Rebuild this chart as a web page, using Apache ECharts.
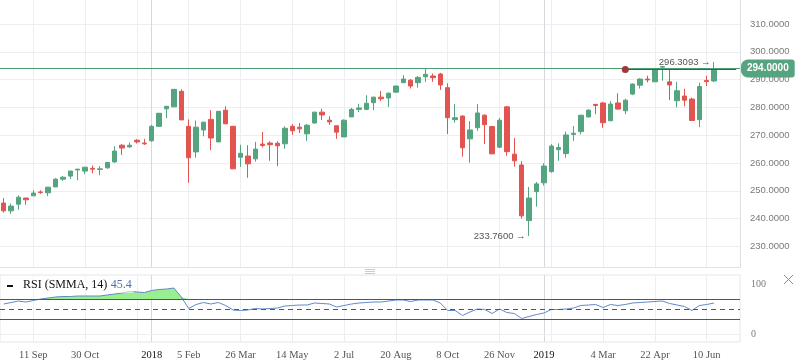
<!DOCTYPE html>
<html><head><meta charset="utf-8">
<script src="https://cdn.jsdelivr.net/npm/echarts@6/dist/echarts.min.js"></script>
<style>html,body{margin:0;padding:0;background:#fff}#c{width:798px;height:363px}</style>
</head><body><div id="c"></div>
<script>
// weekly categories (last 3 are empty future weeks)
const weeks = ['2017-08-14','2017-08-21','2017-08-28','2017-09-04','2017-09-11','2017-09-18','2017-09-25','2017-10-02','2017-10-09','2017-10-16','2017-10-23','2017-10-30','2017-11-06','2017-11-13','2017-11-20','2017-11-27','2017-12-04','2017-12-11','2017-12-18','2017-12-25',
'2018-01-01','2018-01-08','2018-01-15','2018-01-22','2018-01-29','2018-02-05','2018-02-12','2018-02-19','2018-02-26','2018-03-05','2018-03-12','2018-03-19','2018-03-26','2018-04-02','2018-04-09','2018-04-16','2018-04-23','2018-04-30','2018-05-07','2018-05-14','2018-05-21','2018-05-28','2018-06-04','2018-06-11','2018-06-18','2018-06-25','2018-07-02','2018-07-09','2018-07-16','2018-07-23','2018-07-30','2018-08-06','2018-08-13','2018-08-20','2018-08-27','2018-09-03','2018-09-10','2018-09-17','2018-09-24','2018-10-01','2018-10-08','2018-10-15','2018-10-22','2018-10-29','2018-11-05','2018-11-12','2018-11-19','2018-11-26','2018-12-03','2018-12-10','2018-12-17','2018-12-24','2018-12-31',
'2019-01-07','2019-01-14','2019-01-21','2019-01-28','2019-02-04','2019-02-11','2019-02-18','2019-02-25','2019-03-04','2019-03-11','2019-03-18','2019-03-25','2019-04-01','2019-04-08','2019-04-15','2019-04-22','2019-04-29','2019-05-06','2019-05-13','2019-05-20','2019-05-27','2019-06-03','2019-06-10','2019-06-17',
'2019-06-24','2019-07-01','2019-07-08'];

const openP = [245.6,242.8,245.2,247.4,248.2,249.6,249.3,251.4,254.2,255.3, 257.5,257.1,258.1,257.7,258.3,260.4,266.4,265.8,268.2,267.2, 268.0,273.2,279.5,280.2,285.8,273.2,264.0,271.9,275.7,267.6, 279.0,273.2,262.1,262.5,261.5,266.8,267.2,267.1,266.9,273.2, 272.9,270.5,274.4,278.3,275.4,273.4,269.4,276.6,279.3,279.3, 281.7,283.7,283.4,285.5,288.9,289.8,288.9,291.0,291.3,292.0, 287.1,275.6,276.9,268.7,272.7,277.2,273.1,265.7,280.2,263.2, 259.3,239.3,249.7,252.9,256.9,264.8,263.4,270.3,271.3,276.6, 281.1,281.6,275.2,281.6,278.8,284.8,288.0,290.2,289.2,294.5, 289.2,282.4,284.1,283.0,275.6,289.7,289.5];
const closeP = [242.8,244.5,247.7,246.8,249.2,249.4,251.3,254.2,254.9,257.1, 257.8,258.5,257.8,257.9,260.2,264.3,265.4,266.4,267.6,266.9, 273.2,277.9,280.4,286.5,275.5,261.9,272.9,274.7,269.0,278.6, 274.1,257.9,263.5,259.7,265.0,266.3,266.6,266.2,272.5,271.6, 272.3,273.6,278.3,277.3,274.8,271.1,275.4,279.3,279.8,281.5, 283.7,283.1,285.1,287.7,290.2,287.7,290.8,291.9,290.7,288.1, 276.3,276.3,265.5,271.9,278.0,273.8,263.3,275.4,264.1,260.8, 241.0,247.4,252.5,258.9,266.1,265.6,270.1,270.7,277.2,279.0, 280.7,274.5,281.2,279.4,282.6,288.4,290.2,289.9,293.8,294.7, 288.1,286.0,282.6,275.3,287.5,289.3,294.0];
const lowP = [242.2,241.7,243.2,245.0,248.2,248.9,248.1,251.4,253.6,254.3, 253.8,256.0,256.3,255.6,257.9,260.1,262.9,265.6,267.0,266.5, 267.7,273.0,276.2,280.2,275.5,252.9,261.9,269.6,264.6,267.6, 274.1,257.9,258.6,254.7,260.5,265.6,260.8,258.9,265.1,270.1, 270.8,268.0,274.2,275.5,273.7,268.7,269.4,276.6,278.3,279.0, 279.0,282.3,280.2,285.3,288.9,286.8,287.1,289.2,289.2,286.3, 270.4,274.5,262.3,260.1,271.6,266.8,263.2,265.4,262.6,258.7, 240.0,233.76,244.3,251.9,256.5,260.8,261.9,268.0,270.3,276.4, 277.6,272.7,275.2,279.2,277.6,284.4,286.8,289.0,289.2,289.6, 282.6,280.0,280.4,275.1,272.9,287.7,289.2];
const highP = [247.4,245.4,248.4,247.5,250.2,250.2,251.4,254.5,255.3,257.2, 257.9,258.6,259.1,258.9,260.3,266.0,266.8,267.4,268.6,268.7, 273.7,278.0,280.5,286.6,286.5,275.7,275.3,274.8,279.0,278.7, 280.4,273.3,266.6,266.4,267.6,271.2,267.8,267.8,273.2,274.0, 274.4,274.0,278.4,279.5,276.8,273.5,275.7,279.8,281.3,284.4, 283.8,285.9,285.4,287.8,291.6,290.2,291.3,294.0,292.2,292.4, 288.7,281.2,277.1,275.1,281.2,277.5,273.4,276.2,280.5,269.0, 260.7,251.4,253.2,259.9,266.8,267.1,271.3,273.3,277.3,279.4, 281.2,282.0,282.3,285.1,283.1,288.6,290.5,291.4,294.0,294.9, 294.0,289.2,286.7,283.5,288.9,291.4,296.3093];

const rsi = [60,63,66,64,67,70,72,74,75,75, 76,76,76,76,78,80,82,85,84,83, 87,89,90,92,74,51,59,63,60,63, 57,48,47,48,51,50,51,52,56,57, 58,58,62,61,60,54,57,60,62,63, 64,64,66,68,68,65,68,68,68,62, 47,47,37,44,50,49,41,50,43,41, 31,35,39,42,49,49,50,52,57,58, 59,53,59,57,59,62,63,64,65,66, 61,58,55,47,57,59,62];
const rsiLevels = [70, 50, 30];
const rsiLabelTicks = [0, 100];

const tickWeeks = ['2017-09-11','2017-10-30','2017-12-18','2018-01-01','2018-02-05','2018-03-26','2018-05-14','2018-07-02','2018-08-20','2018-10-08','2018-11-26','2019-01-07','2019-01-14','2019-03-04','2019-04-22','2019-06-10'];
const tickLabels = ['11 Sep','30 Oct','','2018','5 Feb','26 Mar','14 May','2 Jul','20 Aug','8 Oct','26 Nov','2019','','4 Mar','22 Apr','10 Jun'];
const yearLabels = ['2018','2019'];

const lastPrice = 294.0;
const levelPrice = 293.62;
const levelStart = '2019-03-25';
const levelEnd = '2019-07-08';
const maxNote = {week:'2019-06-17', price:296.3093};
const minNote = {week:'2018-12-24', price:233.76};
const rsiValueText = '45.4';

const UP = '#53a47f', DOWN = '#e1544f';
const candles = openP.map((o,i)=>[o, closeP[i], lowP[i], highP[i]]);
const gridColors = tickLabels.map(t => yearLabels.includes(t) ? '#d5d8dd' : '#eceef2');
const vSplit = {show:true, alignWithLabel:true, interval:(i,v)=>tickWeeks.includes(v), lineStyle:{color:gridColors, width:1}};

const chart = echarts.init(document.getElementById('c'), null, {renderer:'canvas'});
chart.setOption({
  animation:false,
  backgroundColor:'#fff',
  grid:[
    {left:0, right:58, top:0, height:267, outerBoundsMode:'none', containLabel:false},
    {left:0, right:58, top:275, height:67, outerBoundsMode:'none', containLabel:false, show:true, borderColor:'#e3e6ea', borderWidth:1, backgroundColor:'transparent'}
  ],
  xAxis:[
    {type:'category', gridIndex:0, data:weeks, boundaryGap:true,
     axisLine:{show:true, lineStyle:{color:'#dfe2e6'}}, axisTick:{show:false}, axisLabel:{show:false},
     splitLine:vSplit},
    {type:'category', gridIndex:1, data:weeks, boundaryGap:true,
     axisLine:{show:false}, axisTick:{show:false},
     axisLabel:{show:true, interval:(i,v)=>{const k=tickWeeks.indexOf(v); return k>=0 && tickLabels[k]!=='';},
       formatter:(v)=>{const k=tickWeeks.indexOf(v); const t=k>=0?tickLabels[k]:''; return yearLabels.includes(t)?'{y|'+t+'}':t;},
       color:'#555', fontSize:10.5, fontFamily:'Liberation Serif', margin:8,
       rich:{y:{color:'#111', fontSize:10.5, fontFamily:'Liberation Serif'}}},
     splitLine:vSplit}
  ],
  yAxis:[
    {type:'value', gridIndex:0, position:'right', min:222.6, max:318.64, splitNumber:10,
     axisLine:{show:true, lineStyle:{color:'#dcdfe3'}}, axisTick:{show:false},
     axisLabel:{color:'#7a7a7a', fontSize:9.5, fontFamily:'Liberation Sans', margin:10,
       formatter:(v)=>v.toFixed(4), showMinLabel:false, showMaxLabel:false},
     splitLine:{show:true, showMinLine:false, showMaxLine:false, lineStyle:{color:'#eceef2'}}},
    {type:'value', gridIndex:1, position:'right', min:-16, max:118,
     axisLine:{show:false}, axisTick:{show:false}, splitLine:{show:false},
     axisLabel:{customValues:rsiLabelTicks, color:'#7a7a7a', fontSize:10, fontFamily:'Liberation Serif', margin:11}}
  ],
  series:[
    {type:'candlestick', name:'Price', xAxisIndex:0, yAxisIndex:0, data:candles, barWidth:5,
     itemStyle:{color:UP, color0:DOWN, borderColor:UP, borderColor0:DOWN, borderWidth:1},
     markPoint:{silent:true, symbol:'circle', symbolSize:1, itemStyle:{color:'rgba(0,0,0,0)'},
       label:{show:true, position:'left', distance:3, color:'#555', fontSize:9.5, fontFamily:'Liberation Sans'},
       data:[
         {coord:[maxNote.week, maxNote.price], label:{formatter:maxNote.price.toFixed(4)+' \u2192'}},
         {coord:[minNote.week, minNote.price], label:{formatter:minNote.price.toFixed(4)+' \u2192'}}
       ]}
    },
    {type:'line', name:'last', xAxisIndex:0, yAxisIndex:0, data:[], z:5,
     markLine:{silent:true, symbol:['none','none'],
       lineStyle:{color:'#4a9d74', width:1, type:'solid', opacity:1},
       label:{show:true, position:'end', distance:1, formatter:lastPrice.toFixed(4), color:'#fff', fontWeight:'bold',
            fontSize:10, fontFamily:'Liberation Sans', backgroundColor:'#56a47f', padding:[4,6,4,6], borderRadius:[7,3,3,7]},
       data:[{yAxis:lastPrice}]}},
    {type:'line', name:'level', xAxisIndex:0, yAxisIndex:0, data:[], z:6,
     markLine:{silent:true, symbol:['circle','none'], symbolSize:7,
       itemStyle:{color:'#b0453f'},
       lineStyle:{color:'#9d3a36', width:1, type:'solid'}, label:{show:false},
       data:[[{coord:[levelStart, levelPrice]}, {coord:[levelEnd, levelPrice]}]]}},
    {type:'line', name:'base', xAxisIndex:1, yAxisIndex:1, data:rsi.map(()=>rsiLevels[0]), stack:'ob',
     symbol:'none', lineStyle:{opacity:0}, silent:true, z:1},
    {type:'line', name:'over', xAxisIndex:1, yAxisIndex:1, data:rsi.map(v=>Math.max(v-rsiLevels[0],0)), stack:'ob',
     symbol:'none', lineStyle:{opacity:0}, areaStyle:{color:'#98ee90', opacity:1}, silent:true, z:1},
    {type:'line', name:'RSI', xAxisIndex:1, yAxisIndex:1, data:rsi, symbol:'none', z:3,
     lineStyle:{color:'#6289c8', width:1},
     markLine:{silent:true, symbol:['none','none'], label:{show:false},
       data:[
         {yAxis:rsiLevels[0], lineStyle:{color:'#555', width:1, type:'solid'}},
         {yAxis:rsiLevels[1], lineStyle:{color:'#555', width:1, type:[5,4]}},
         {yAxis:rsiLevels[2], lineStyle:{color:'#555', width:1, type:'solid'}},
         {yAxis:0, lineStyle:{color:'#eceef2', width:1, type:'solid'}}
       ]}}
  ],
  graphic:[
    {type:'rect', shape:{x:7, y:285, width:6, height:2}, style:{fill:'#111'}, z:20},
    {type:'text', x:21, y:277, z:20,
     style:{text:'{a|RSI (SMMA, 14)} {b|'+rsiValueText+'}', backgroundColor:'rgba(255,255,255,0.55)', padding:[2,2,2,2],
       rich:{a:{fill:'#111', fontSize:12, fontFamily:'Liberation Serif'}, b:{fill:'#4a70b2', fontSize:12, fontFamily:'Liberation Serif'}}}},
    {type:'line', shape:{x1:365, y1:269.5, x2:375, y2:269.5}, style:{stroke:'#c9ccd1', lineWidth:1}},
    {type:'line', shape:{x1:365, y1:271.5, x2:375, y2:271.5}, style:{stroke:'#c9ccd1', lineWidth:1}},
    {type:'line', shape:{x1:365, y1:273.5, x2:375, y2:273.5}, style:{stroke:'#c9ccd1', lineWidth:1}},
    {type:'line', shape:{x1:784, y1:275, x2:793, y2:284}, style:{stroke:'#8a8a8a', lineWidth:1}},
    {type:'line', shape:{x1:793, y1:275, x2:784, y2:284}, style:{stroke:'#8a8a8a', lineWidth:1}}
  ]
});
</script></body></html>
